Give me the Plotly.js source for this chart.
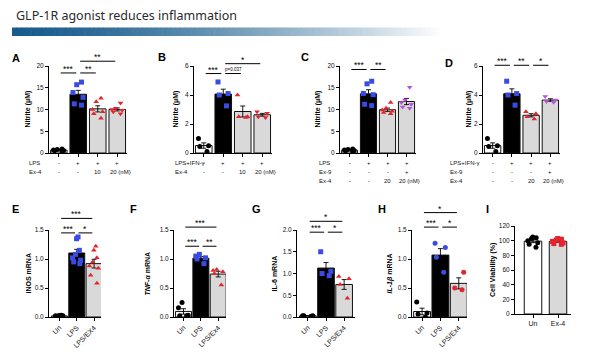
<!DOCTYPE html>
<html><head><meta charset="utf-8">
<script src="https://cdn.plot.ly/plotly-3.0.1.min.js"></script>
<style>html,body{margin:0;padding:0;background:#fff}#chart{width:590px;height:354px}</style>
</head><body><div id="chart"></div>
<script>
// ================= DATA =================
// Panel A: Nitrite (uM), LPS, Ex-4 10 / 20 nM
const catsA = ['Un','LPS','Ex4_10','Ex4_20'];
const a_un   = [0.4,0.55,0.6,0.7,0.8,0.9];
const a_lps  = [16.3,15.7,13.9,12.8,11.3,11.0];
const a_ex10 = [12.6,11.8,10.0,9.5,9.0,8.0];
const a_ex20 = [11.5,10.3,10.0,9.8,9.5,9.0];
const sigA = [[0,1,18.4,'***'],[1,2,18.4,'**'],[1,3,21.1,'**']];
const rowsA = [['LPS',['-','+','+','+']],['Ex-4',['-','-','10','20 (nM)']]];

// Panel B: Nitrite (uM), LPS+IFN-g
const catsB = ['Un','LPS','Ex4_10','Ex4_20'];
const b_un   = [1.0,0.5,0.45,0.1];
const b_lps  = [4.9,4.1,4.0,3.25];
const b_ex10 = [4.0,2.5,2.45,2.5];
const b_ex20 = [2.85,2.75,2.5,2.45];
const sigB = [[0,1,5.48,'***'],[1,2,5.48,'p=0.037'],[1,3,6.16,'*']];
const rowsB = [['LPS+IFN-γ',['-','+','+','+']],['Ex-4',['-','-','10','20 (nM)']]];

// Panel C: Nitrite (uM), LPS, Ex-9 / Ex-4
const catsC = ['Un','LPS','Ex4','Ex9Ex4'];
const c_un   = [0.4,0.5,0.6,0.7,0.8,0.9];
const c_lps  = [16.5,15.9,13.7,13.4,11.2,10.9];
const c_ex4  = [11.6,10.3,9.9,9.6,9.3,9.0];
const c_ex94 = [15.1,12.2,11.6,11.2,10.6,10.3];
const sigC = [[0,1,19.2,'***'],[1,2,19.2,'**']];
const rowsC = [['LPS',['-','+','+','+']],['Ex-9',['-','-','-','+']],['Ex-4',['-','-','20','20 (nM)']]];

// Panel D: Nitrite (uM), LPS+IFN-g, Ex-9 / Ex-4
const catsD = ['Un','LPS','Ex4','Ex9Ex4'];
const d_un   = [1.0,0.5,0.45,0.1];
const d_lps  = [4.95,4.1,4.0,3.3];
const d_ex4  = [2.85,2.7,2.5,2.35];
const d_ex94 = [3.9,3.65,3.55,3.5];
const sigD = [[0,1,6.05,'***'],[1,2,6.05,'**'],[2,3,6.05,'*']];
const rowsD = [['LPS+IFN-γ',['-','+','+','+']],['Ex-9',['-','-','-','+']],['Ex-4',['-','-','20','20 (nM)']]];

// Panels E-H: mRNA
const catsE = ['Un','LPS','LPS/EX4'];
const e_un  = [0.01,0.02,0.02,0.02,0.03,0.02,0.02,0.01];
const e_lps = [1.38,1.35,1.15,1.08,1.02,0.98,0.92,0.95];
const e_ex4 = [1.22,1.15,1.02,0.95,0.88,0.84,0.72,0.58];
const sigE = [[0,1,1.45,'***'],[1,2,1.45,'*'],[0,2,1.7,'***']];

const catsF = ['Un','LPS','LPS/Ex4'];
const f_un  = [0.25,0.16,0.03,0.02,0.02];
const f_lps = [1.08,1.05,1.02,1.0,0.92];
const f_ex4 = [0.82,0.8,0.78,0.75,0.55];
const sigF = [[0,1,1.22,'***'],[1,2,1.22,'**'],[0,2,1.55,'***']];

const catsG = ['Un','LPS','LPS/Ex4'];
const g_un  = [0.03,0.03,0.02,0.03];
const g_lps = [1.5,1.05,1.0,0.95];
const g_ex4 = [0.93,0.88,0.75,0.43];
const sigG = [[0,1,1.95,'***'],[1,2,1.95,'*'],[0,2,2.2,'*']];

const catsH = ['Un','LPS','LPS/Ex4'];
const h_un  = [0.26,0.07,0.05,0.0];
const h_lps = [1.27,1.2,1.03,0.77];
const h_ex4 = [0.77,0.5,0.47];
const sigH = [[0,1,1.55,'***'],[1,2,1.55,'*'],[0,2,1.8,'*']];

// Panel I: Cell viability (%)
const catsI = ['Un','Ex-4'];
const i_un  = [105,104,103,100,97,95,91];
const i_ex4 = [103,102,101,99,97,96,95];

// ================= STYLE / LAYOUT =================
const W = 590, H = 354;
const FONT = 'Liberation Sans, Arial, sans-serif';
const BLUE = '#3a4be3', RED = '#e3262d', PURPLE = '#b556d6', GRAY = '#d9d9d9';
const fill4 = ['#ffffff','#000000',GRAY,GRAY];
const fill3 = ['#ffffff','#000000',GRAY];
const mkAB = [['circle','#000'],['square',BLUE],['triangle-up',RED],['triangle-down',RED]];
const mkCD = [['circle','#000'],['square',BLUE],['triangle-up',RED],['triangle-down',PURPLE]];
const mk3  = [['circle','#000'],['square',BLUE],['triangle-up',RED]];
const mkH  = [['circle','#000'],['circle',BLUE],['circle',RED]];
const mkI  = [['circle','#000'],['square',RED]];

const panels = [
 {L:'A', cats:catsA, pts:[a_un,a_lps,a_ex10,a_ex20], sig:sigA, rows:rowsA, xd:[49,127], yd:[66,153], yr:[0,20], xr:[-0.5,3.5], dtick:5, fmt:'d', bw:0.85, mk:mkAB, fills:fill4, rowX:27, ylab:'<b>Nitrite (μM)</b>', ylabX:27, let:[16,58]},
 {L:'B', cats:catsB, pts:[b_un,b_lps,b_ex10,b_ex20], sig:sigB, rows:rowsB, xd:[194,272], yd:[66,153], yr:[0,6], xr:[-0.5,3.5], dtick:2, fmt:'d', bw:0.85, mk:mkAB, fills:fill4, rowX:173, ylab:'<b>Nitrite (μM)</b>', ylabX:175, let:[162,57]},
 {L:'C', cats:catsC, pts:[c_un,c_lps,c_ex4,c_ex94], sig:sigC, rows:rowsC, xd:[340,416], yd:[66,153], yr:[0,20], xr:[-0.5,3.5], dtick:5, fmt:'d', bw:0.85, mk:mkCD, fills:fill4, rowX:317, ylab:'<b>Nitrite (μM)</b>', ylabX:317, let:[305,57]},
 {L:'D', cats:catsD, pts:[d_un,d_lps,d_ex4,d_ex94], sig:sigD, rows:rowsD, xd:[483,560], yd:[66,153], yr:[0,6], xr:[-0.5,3.5], dtick:2, fmt:'d', bw:0.85, mk:mkCD, fills:fill4, rowX:448, ylab:'<b>Nitrite (μM)</b>', ylabX:468, let:[449,63]},
 {L:'E', cats:catsE, pts:[e_un,e_lps,e_ex4], sig:sigE, xd:[49,101], yd:[230,317], yr:[0,1.5], xr:[-0.6,2.4], dtick:0.5, fmt:'.1f', bw:0.92, mk:mk3, fills:fill3, ylab:'<b>iNOS mRNA</b>', ylabX:28, let:[15,209], rot:true},
 {L:'F', cats:catsF, pts:[f_un,f_lps,f_ex4], sig:sigF, xd:[174,226], yd:[230,317], yr:[0,1.5], xr:[-0.55,2.45], dtick:0.5, fmt:'.1f', bw:0.92, mk:mk3, fills:fill3, ylab:'<b><i>TNF-α</i> mRNA</b>', ylabX:147, let:[133,209], rot:true},
 {L:'G', cats:catsG, pts:[g_un,g_lps,g_ex4], sig:sigG, xd:[297,355], yd:[230,317], yr:[0,2], xr:[-0.6,2.6], dtick:0.5, fmt:'.1f', bw:0.92, mk:mk3, fills:fill3, ylab:'<b>IL-6 mRNA</b>', ylabX:274, let:[256,209], rot:true},
 {L:'H', cats:catsH, pts:[h_un,h_lps,h_ex4], sig:sigH, xd:[412,467], yd:[230,317], yr:[0,1.5], xr:[-0.55,2.45], dtick:0.5, fmt:'.1f', bw:0.92, mk:mkH, fills:fill3, ylab:'<b><i>IL-1β</i> mRNA</b>', ylabX:389, let:[382,209], rot:true},
 {L:'I', cats:catsI, pts:[i_un,i_ex4], sig:[], xd:[515,571], yd:[226,314], yr:[0,120], xr:[-0.72,1.52], dtick:20, fmt:'d', bw:0.7, mk:mkI, fills:['#ffffff',GRAY], ylab:'<b>Cell Viability (%)</b>', ylabX:493, let:[487,209], flat:true}
];

const data = [], shapes = [], annotations = [];
const layout = {
  width: W, height: H, margin:{l:0,r:0,t:0,b:0}, showlegend:false,
  paper_bgcolor:'#ffffff', plot_bgcolor:'rgba(0,0,0,0)',
  font:{family:FONT, color:'#000', size:7}, boxmode:'overlay'
};

const px = v => v / W, py = v => 1 - v / H;
function mapX(p, v){ return p.xd[0] + (v - p.xr[0]) / (p.xr[1] - p.xr[0]) * (p.xd[1] - p.xd[0]); }
function mapY(p, v){ return p.yd[1] - (v - p.yr[0]) / (p.yr[1] - p.yr[0]) * (p.yd[1] - p.yd[0]); }
const mean = a => a.reduce((u,v)=>u+v,0)/a.length;
const sem = a => { const m = mean(a); return Math.sqrt(a.reduce((u,v)=>u+(v-m)*(v-m),0)/(a.length-1))/Math.sqrt(a.length); };

panels.forEach((p,k)=>{
  const s = k === 0 ? '' : String(k+1);
  const xa = 'x'+s, ya = 'y'+s;
  layout['xaxis'+s] = {
    domain:[px(p.xd[0]), px(p.xd[1])], range:p.xr, type:'category', anchor:ya,
    showline:true, linecolor:'#000', linewidth:1, ticks:'outside', ticklen:3, tickwidth:1, tickcolor:'#000',
    showgrid:false, zeroline:false, fixedrange:true,
    showticklabels: !!(p.rot || p.flat), tickangle: p.rot ? -45 : 0,
    tickfont:{size:7, family:FONT, color:'#111'}
  };
  layout['yaxis'+s] = {
    domain:[py(p.yd[1]), py(p.yd[0])], range:p.yr, anchor:xa,
    showline:true, linecolor:'#000', linewidth:1, ticks:'outside', ticklen:3, tickwidth:1, tickcolor:'#000',
    showgrid:false, zeroline:false, dtick:p.dtick, tick0:0, tickformat:p.fmt, fixedrange:true,
    tickfont:{size:6.5, family:FONT, color:'#111'}
  };
  data.push({type:'bar', x:p.cats, y:p.pts.map(mean), xaxis:xa, yaxis:ya, width:p.bw,
    marker:{color:p.fills, line:{color:'#111', width:1}},
    error_y:{type:'data', array:p.pts.map(sem), visible:true, color:'#000', thickness:0.9, width:2.5},
    hoverinfo:'skip'});
  p.pts.forEach((a,i)=>{
    data.push({type:'box', x:a.map(()=>p.cats[i]), y:a, xaxis:xa, yaxis:ya,
      boxpoints:'all', jitter:1, pointpos:0, width:p.bw*0.75,
      fillcolor:'rgba(0,0,0,0)', line:{color:'rgba(0,0,0,0)', width:0}, whiskerwidth:0,
      marker:{symbol:p.mk[i][0], color:p.mk[i][1], size:5}, hoverinfo:'skip'});
  });
  // significance brackets
  p.sig.forEach(([i,j,lvl,txt])=>{
    const x0 = mapX(p, i+0.1), x1 = mapX(p, j-0.1), y = mapY(p, lvl);
    shapes.push({type:'line', xref:'paper', yref:'paper', x0:px(x0), x1:px(x1), y0:py(y), y1:py(y), line:{color:'#000', width:1}});
    const isP = txt.startsWith('p');
    annotations.push({xref:'paper', yref:'paper', x:px((x0+x1)/2), y:py(y), yanchor:'bottom', xanchor:'center',
      text:txt, showarrow:false, yshift: isP ? 0 : -3, font:{size: isP ? 4.5 : 8.5, family:FONT, color:'#000'}});
  });
  // condition table below A-D
  if (p.rows){
    p.rows.forEach(([lab, vals], r)=>{
      const yy = 163 + r*9;
      annotations.push({xref:'paper', yref:'paper', x:px(p.rowX), y:py(yy), xanchor:'left', yanchor:'middle', text:lab, showarrow:false, font:{size:6, family:FONT, color:'#111'}});
      vals.forEach((v,c)=>{
        const long = v.length > 3;
        annotations.push({xref:xa, yref:'paper', x: long ? c-0.5 : c, y:py(yy), xanchor: long ? 'left' : 'center', yanchor:'middle',
          text:v, showarrow:false, font:{size:6, family:FONT, color:'#111'}});
      });
    });
  }
  // y-axis title
  annotations.push({xref:'paper', yref:'paper', x:px(p.ylabX), y:py((p.yd[0]+p.yd[1])/2), textangle:-90,
    xanchor:'center', yanchor:'middle', text:p.ylab, showarrow:false, font:{size:7, family:FONT, color:'#000'}});
  // panel letter
  annotations.push({xref:'paper', yref:'paper', x:px(p.let[0]), y:py(p.let[1]), xanchor:'center', yanchor:'middle',
    text:'<b>'+p.L+'</b>', showarrow:false, font:{size:11, family:FONT, color:'#000'}});
});

// header title + gradient bar
annotations.push({xref:'paper', yref:'paper', x:px(14), y:py(15), xanchor:'left', yanchor:'middle',
  text:'GLP-1R agonist reduces inflammation', showarrow:false, font:{size:12.5, family:'Noto Sans, sans-serif', color:'#2a2a2a'}});
const N = 90, gx0 = 12, gx1 = 445;
for (let k=0;k<N;k++){
  const t = Math.pow(k/(N-1), 1.4);
  const c = [24,92,141].map((v,idx)=>Math.round(v + (255-v)*t));
  const xa0 = gx0 + (gx1-gx0)*k/N, xa1 = gx0 + (gx1-gx0)*(k+1)/N + 0.6;
  shapes.push({type:'rect', xref:'paper', yref:'paper', x0:px(xa0), x1:px(xa1), y0:py(36), y1:py(27.5),
    line:{width:0}, fillcolor:`rgb(${c[0]},${c[1]},${c[2]})`, layer:'below'});
}

layout.shapes = shapes;
layout.annotations = annotations;
Plotly.newPlot('chart', data, layout, {staticPlot:true, displayModeBar:false});
</script></body></html>
